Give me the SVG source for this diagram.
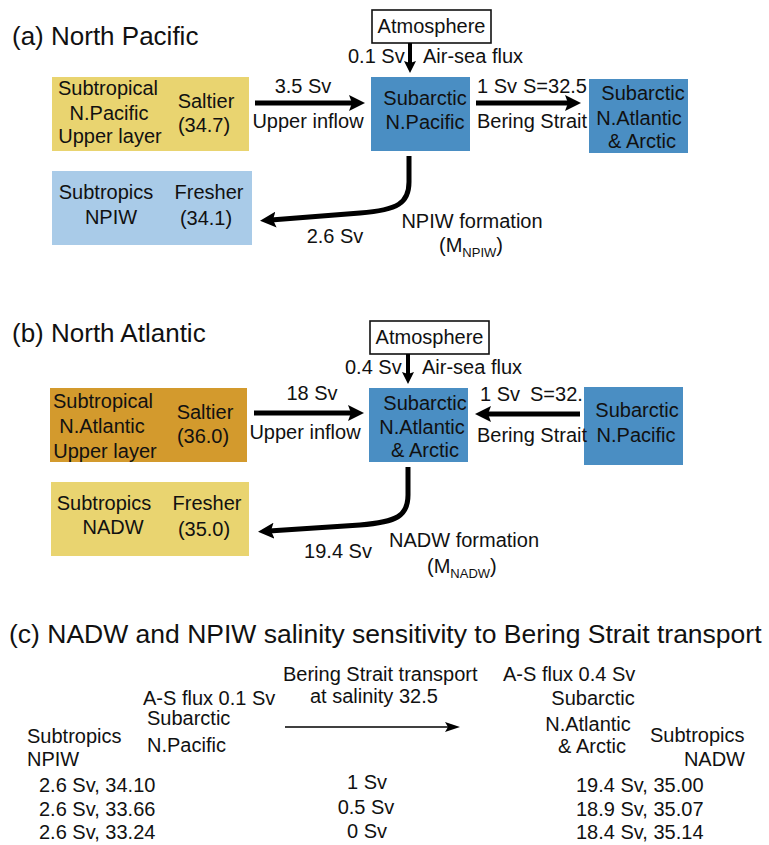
<svg xmlns="http://www.w3.org/2000/svg" width="769" height="845" viewBox="0 0 769 845">
<style>
text{font-family:"Liberation Sans",Arial,Helvetica,sans-serif;font-size:20px;fill:#111}
.t{font-size:26px}
.m{text-anchor:middle}
.e{text-anchor:end}
.sub{font-size:13px}
.atm{fill:#fff;stroke:#111;stroke-width:1.6}
.yel{fill:#E9D470}
.org{fill:#D39A2D}
.blu{fill:#4A8EC3}
.lbl{fill:#A9CBE8}
.thick{fill:none;stroke:#000;stroke-width:5}
.mid{fill:none;stroke:#000;stroke-width:4}
.thin{fill:none;stroke:#000;stroke-width:1.6}
</style>
<defs>
<marker id="ah" markerUnits="userSpaceOnUse" viewBox="0 0 16 16" markerWidth="16" markerHeight="16" refX="5" refY="8" orient="auto"><path d="M0,0 L16,8 L0,16 L3,8 z" fill="#000"/></marker>
<marker id="as" markerUnits="userSpaceOnUse" viewBox="0 0 12 12" markerWidth="12" markerHeight="12" refX="4" refY="6" orient="auto"><path d="M0,0 L12,6 L0,12 L2,6 z" fill="#000"/></marker>
<marker id="at" markerUnits="userSpaceOnUse" viewBox="0 0 15 10" markerWidth="15" markerHeight="10" refX="4" refY="5" orient="auto"><path d="M0,0 L15,5 L0,10 L3,5 z" fill="#000"/></marker>
</defs>

<!-- Panel titles -->
<text class="t" x="12" y="45">(a) North Pacific</text>
<text class="t" x="12" y="342">(b) North Atlantic</text>
<text x="9" y="643" style="font-size:26.5px">(c) NADW and NPIW salinity sensitivity to Bering Strait transport</text>

<!-- Panel (a) nodes -->
<g id="a-atmosphere">
<rect class="atm" x="372" y="10" width="119" height="33"/>
<text class="m" x="431.5" y="33">Atmosphere</text>
</g>
<g id="a-subtropical-upper">
<rect class="yel" x="52" y="77" width="197" height="74"/>
<text class="m" x="108" y="95">Subtropical</text>
<text class="m" x="109" y="120">N.Pacific</text>
<text class="m" x="110" y="143">Upper layer</text>
<text class="m" x="206" y="108">Saltier</text>
<text class="m" x="204" y="132">(34.7)</text>
</g>
<g id="a-subarctic-np">
<rect class="blu" x="371" y="77" width="99" height="74"/>
<text class="m" x="425" y="105">Subarctic</text>
<text class="m" x="425" y="129">N.Pacific</text>
</g>
<g id="a-subarctic-na">
<rect class="blu" x="589" y="79" width="99" height="74"/>
<text class="m" x="643" y="100">Subarctic</text>
<text class="m" x="639" y="125">N.Atlantic</text>
<text class="m" x="642" y="148">&amp; Arctic</text>
</g>
<g id="a-subtropics-npiw">
<rect class="lbl" x="52" y="171" width="200" height="74"/>
<text class="m" x="106" y="199">Subtropics</text>
<text class="m" x="111" y="224">NPIW</text>
<text class="m" x="209" y="199">Fresher</text>
<text class="m" x="206" y="225">(34.1)</text>
</g>

<!-- Panel (b) nodes -->
<g id="b-atmosphere">
<rect class="atm" x="370" y="321" width="119" height="33"/>
<text class="m" x="429.5" y="344">Atmosphere</text>
</g>
<g id="b-subtropical-upper">
<rect class="org" x="50" y="388" width="197" height="74"/>
<text class="m" x="103" y="408">Subtropical</text>
<text class="m" x="102" y="433">N.Atlantic</text>
<text class="m" x="105" y="458">Upper layer</text>
<text class="m" x="205" y="419">Saltier</text>
<text class="m" x="203" y="443">(36.0)</text>
</g>
<g id="b-subarctic-na">
<rect class="blu" x="369" y="388" width="99" height="74"/>
<text class="m" x="425" y="410">Subarctic</text>
<text class="m" x="422" y="434">N.Atlantic</text>
<text class="m" x="425" y="457">&amp; Arctic</text>
</g>
<g id="b-subarctic-np">
<rect class="blu" x="584" y="387" width="99" height="78"/>
<text class="m" x="637" y="417">Subarctic</text>
<text class="m" x="636" y="442">N.Pacific</text>
</g>
<g id="b-subtropics-nadw">
<rect class="yel" x="51" y="482" width="198" height="74"/>
<text class="m" x="104" y="510">Subtropics</text>
<text class="m" x="113" y="534">NADW</text>
<text class="m" x="207" y="510">Fresher</text>
<text class="m" x="204" y="536">(35.0)</text>
</g>

<!-- Connectors -->
<g id="connectors">
<line class="mid" x1="410" y1="43" x2="410" y2="65" marker-end="url(#as)"/>
<line class="thick" x1="255" y1="103" x2="354" y2="103" marker-end="url(#ah)"/>
<line class="thick" x1="476" y1="103" x2="570" y2="103" marker-end="url(#ah)"/>
<path class="thick" d="M409,156 L409,182 C409,203 398,210 360,213 L271,220" marker-end="url(#ah)"/>

<line class="mid" x1="408" y1="354" x2="408" y2="376" marker-end="url(#as)"/>
<line class="thick" x1="254" y1="413" x2="353" y2="413" marker-end="url(#ah)"/>
<line class="thick" x1="580" y1="414" x2="486" y2="414" marker-end="url(#ah)"/>
<path class="thick" d="M408,467 L408,495 C408,516 397,522 360,525 L269,531" marker-end="url(#ah)"/>

<line class="thin" x1="285" y1="727" x2="449" y2="727" marker-end="url(#at)"/>
</g>

<!-- Connector labels -->
<g id="labels-a">
<text x="348" y="63">0.1 Sv</text>
<text x="423" y="63">Air-sea flux</text>
<text class="m" x="303" y="93">3.5 Sv</text>
<text class="m" x="308" y="128">Upper inflow</text>
<text y="93"><tspan x="477">1 Sv</tspan><tspan x="523">S=32.5</tspan></text>
<text x="477" y="128">Bering Strait</text>
<text class="m" x="335" y="243">2.6 Sv</text>
<text class="m" x="472" y="228">NPIW formation</text>
<text x="439" y="252">(M<tspan class="sub" dy="5">NPIW</tspan><tspan dy="-5">)</tspan></text>
</g>
<g id="labels-b">
<text x="345" y="374">0.4 Sv</text>
<text x="422" y="374">Air-sea flux</text>
<text class="m" x="312" y="400">18 Sv</text>
<text class="m" x="305" y="439">Upper inflow</text>
<text y="401"><tspan x="480">1 Sv</tspan><tspan x="530">S=32.</tspan></text>
<text x="477" y="442">Bering Strait</text>
<text class="m" x="338" y="558">19.4 Sv</text>
<text class="m" x="464" y="547">NADW formation</text>
<text x="427" y="573">(M<tspan class="sub" dy="5">NADW</tspan><tspan dy="-5">)</tspan></text>
</g>

<!-- Panel (c) -->
<g id="c-bering">
<text x="283" y="681">Bering Strait transport</text>
<text x="310" y="703">at salinity 32.5</text>
<text class="m" x="367" y="789">1 Sv</text>
<text class="m" x="366" y="814">0.5 Sv</text>
<text class="m" x="367" y="838">0 Sv</text>
</g>
<g id="c-north-pacific">
<text x="143" y="705">A-S flux 0.1 Sv</text>
<text x="147" y="725">Subarctic</text>
<text x="147" y="752">N.Pacific</text>
</g>
<g id="c-npiw">
<text x="27" y="743">Subtropics</text>
<text x="27" y="766">NPIW</text>
<text x="39" y="792">2.6 Sv, 34.10</text>
<text x="39" y="816">2.6 Sv, 33.66</text>
<text x="39" y="839">2.6 Sv, 33.24</text>
</g>
<g id="c-north-atlantic">
<text x="503" y="681">A-S flux 0.4 Sv</text>
<text class="m" x="593" y="705">Subarctic</text>
<text class="m" x="588" y="731">N.Atlantic</text>
<text class="m" x="592" y="753">&amp; Arctic</text>
</g>
<g id="c-nadw">
<text x="650" y="742">Subtropics</text>
<text class="e" x="745" y="766">NADW</text>
<text x="576" y="792">19.4 Sv, 35.00</text>
<text x="576" y="816">18.9 Sv, 35.07</text>
<text x="576" y="839">18.4 Sv, 35.14</text>
</g>
</svg>
